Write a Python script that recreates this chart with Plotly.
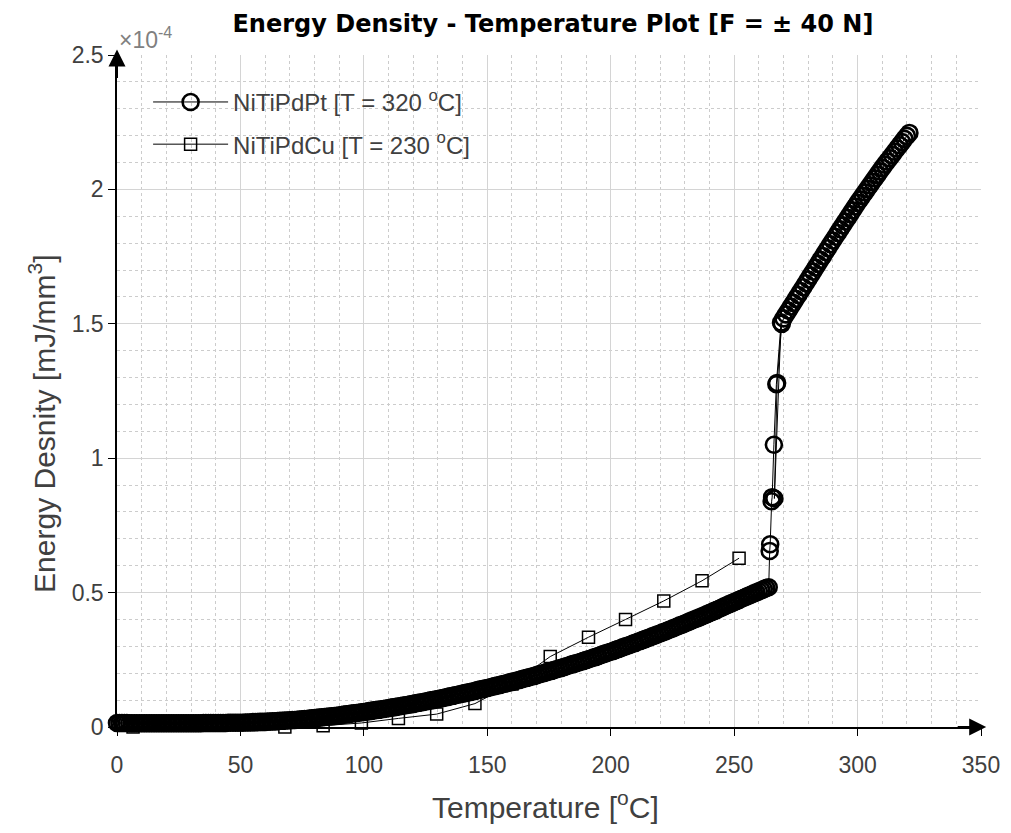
import plotly.graph_objects as go

# ---------------- data (values in units of 1e-4 mJ/mm^3) ----------------
# NiTiPdPt [T = 320 C] : heating branch 0..264 C (1 C step)
pt_low_T = list(range(0, 265))
pt_low_E = [
    0.015, 0.015, 0.015, 0.015, 0.015, 0.014, 0.014, 0.014, 0.014, 0.014,
    0.014, 0.014, 0.014, 0.014, 0.014, 0.014, 0.014, 0.014, 0.014, 0.014,
    0.014, 0.014, 0.014, 0.014, 0.014, 0.014, 0.014, 0.014, 0.014, 0.014,
    0.014, 0.014, 0.014, 0.014, 0.014, 0.015, 0.015, 0.015, 0.015, 0.015,
    0.015, 0.015, 0.015, 0.015, 0.015, 0.016, 0.016, 0.016, 0.016, 0.016,
    0.016, 0.016, 0.017, 0.017, 0.017, 0.018, 0.018, 0.018, 0.019, 0.019,
    0.019, 0.020, 0.020, 0.021, 0.021, 0.022, 0.023, 0.023, 0.024, 0.024,
    0.025, 0.026, 0.026, 0.027, 0.028, 0.029, 0.030, 0.030, 0.031, 0.032,
    0.033, 0.034, 0.035, 0.036, 0.037, 0.038, 0.039, 0.040, 0.041, 0.042,
    0.043, 0.044, 0.046, 0.047, 0.048, 0.050, 0.051, 0.052, 0.053, 0.055,
    0.056, 0.057, 0.059, 0.060, 0.062, 0.063, 0.064, 0.066, 0.067, 0.069,
    0.070, 0.072, 0.073, 0.075, 0.076, 0.078, 0.080, 0.081, 0.083, 0.084,
    0.086, 0.088, 0.090, 0.091, 0.093, 0.095, 0.097, 0.099, 0.100, 0.102,
    0.104, 0.106, 0.108, 0.110, 0.112, 0.114, 0.116, 0.118, 0.120, 0.122,
    0.124, 0.126, 0.128, 0.130, 0.132, 0.134, 0.137, 0.139, 0.141, 0.143,
    0.145, 0.147, 0.150, 0.152, 0.154, 0.156, 0.159, 0.161, 0.163, 0.166,
    0.168, 0.170, 0.173, 0.175, 0.178, 0.180, 0.183, 0.185, 0.188, 0.190,
    0.193, 0.196, 0.198, 0.201, 0.204, 0.206, 0.209, 0.212, 0.215, 0.217,
    0.220, 0.223, 0.226, 0.229, 0.232, 0.235, 0.237, 0.240, 0.243, 0.246,
    0.249, 0.252, 0.255, 0.258, 0.261, 0.264, 0.268, 0.271, 0.274, 0.277,
    0.280, 0.283, 0.287, 0.290, 0.293, 0.297, 0.300, 0.303, 0.306, 0.310,
    0.313, 0.317, 0.320, 0.324, 0.327, 0.331, 0.334, 0.338, 0.341, 0.345,
    0.348, 0.352, 0.355, 0.359, 0.363, 0.366, 0.370, 0.374, 0.378, 0.381,
    0.385, 0.389, 0.393, 0.397, 0.401, 0.404, 0.408, 0.412, 0.416, 0.420,
    0.424, 0.428, 0.432, 0.436, 0.440, 0.444, 0.449, 0.453, 0.457, 0.461,
    0.465, 0.469, 0.473, 0.477, 0.481, 0.485, 0.489, 0.493, 0.497, 0.501,
    0.505, 0.509, 0.513, 0.517, 0.520,
]
# transformation jump (goes up, briefly back, then up again)
pt_jump_T = [264.4, 264.6, 265.2, 265.4, 266.1, 267.1, 269.0, 266.3, 267.4, 269.3]
pt_jump_E = [0.655, 0.680, 0.840, 0.855, 1.050, 1.275, 1.505, 0.850, 1.280, 1.500]
# upper branch 270..321 C
pt_high_T = list(range(270, 322))
pt_high_E = [
    1.520, 1.535, 1.549, 1.564, 1.578, 1.593, 1.607, 1.622, 1.636, 1.651,
    1.665, 1.680, 1.694, 1.709, 1.723, 1.738, 1.752, 1.767, 1.781, 1.796,
    1.810, 1.824, 1.838, 1.852, 1.866, 1.880, 1.894, 1.908, 1.922, 1.936,
    1.950, 1.963, 1.976, 1.989, 2.002, 2.015, 2.028, 2.041, 2.054, 2.067,
    2.080, 2.092, 2.104, 2.116, 2.128, 2.140, 2.152, 2.164, 2.176, 2.188,
    2.199, 2.210,
]

# NiTiPdCu [T = 230 C]
cu_T = [6.5, 22, 37.5, 53, 68, 83.5, 99, 114, 129.5, 145, 160, 175.5, 191, 206, 221.5, 237, 252]
cu_E = [0.000, -0.002, -0.003, -0.002, 0.000, 0.005, 0.015, 0.032, 0.048, 0.087,
        0.160, 0.262, 0.334, 0.400, 0.469, 0.544, 0.628]

x_ticks = [0, 50, 100, 150, 200, 250, 300, 350]
y_ticks = [0, 0.5, 1, 1.5, 2, 2.5]
y_tick_labels = ["0", "0.5", "1", "1.5", "2", "2.5"]

pt_T = pt_low_T + pt_jump_T + pt_high_T
pt_E = pt_low_E + pt_jump_E + pt_high_E

FONT = "Liberation Sans, Arial, Helvetica, sans-serif"
TXT = "#404040"

fig = go.Figure()
fig.add_trace(go.Scatter(
    x=cu_T, y=cu_E, mode="lines+markers",
    name="NiTiPdCu [T = 230 <sup>o</sup>C]",
    line=dict(color="black", width=1),
    marker=dict(symbol="square-open", size=12, color="black", line=dict(width=1.5)),
    cliponaxis=False, legendrank=2, legendgroup="cu",
))
fig.add_trace(go.Scatter(
    x=pt_T, y=pt_E, mode="lines+markers",
    name="NiTiPdPt [T = 320 <sup>o</sup>C]",
    line=dict(color="black", width=1),
    marker=dict(symbol="circle-open", size=16, color="black", line=dict(width=2.6)),
    cliponaxis=False, legendrank=1, legendgroup="pt",
))

fig.update_layout(
    width=1011, height=833,
    margin=dict(l=109, r=38, t=47, b=114),
    paper_bgcolor="white", plot_bgcolor="white",
    font=dict(family=FONT, color=TXT, size=24),
    title=dict(text="<b>Energy Density - Temperature Plot [F = \u00b1 40 N]</b>",
               x=0.539, xanchor="center", yref="container", y=0.981, yanchor="middle",
               font=dict(family="DejaVu Sans, Liberation Sans, Arial, sans-serif", size=24, color="black")),
    showlegend=True,
    legend=dict(x=0.036, y=0.963, xanchor="left", yanchor="top",
                bgcolor="rgba(255,255,255,0)", borderwidth=0,
                font=dict(family=FONT, size=24, color=TXT),
                tracegroupgap=8, itemwidth=75),
)
fig.update_xaxes(
    range=[0, 350], tickvals=x_ticks, ticktext=[str(v) for v in x_ticks],
    automargin=False,
    showline=True, linecolor="black", linewidth=1.5,
    ticks="outside", ticklen=7, tickcolor="black", tickwidth=1,
    ticklabelstandoff=10,
    showgrid=True, gridcolor="#d4d4d4", gridwidth=1, zeroline=False,
    minor=dict(dtick=10, showgrid=True, gridcolor="#cccccc", griddash="dot", gridwidth=1),
    tickfont=dict(size=23, color=TXT),
)
fig.update_yaxes(
    range=[0, 2.5], tickvals=y_ticks, ticktext=y_tick_labels,
    automargin=False,
    showline=True, linecolor="black", linewidth=1.5,
    ticks="outside", ticklen=7, tickcolor="black", tickwidth=1,
    showgrid=True, gridcolor="#d4d4d4", gridwidth=1, zeroline=False,
    minor=dict(dtick=0.1, showgrid=True, gridcolor="#cccccc", griddash="dot", gridwidth=1),
    tickfont=dict(size=23, color=TXT),
)

# axis titles (placed like the reference)
fig.add_annotation(xref="paper", yref="paper", x=0.5, y=0, yshift=-78, xshift=-4,
                   xanchor="center", yanchor="middle", showarrow=False,
                   text="Temperature [<sup>o</sup>C]", font=dict(family=FONT, size=30, color=TXT))
fig.add_annotation(xref="paper", yref="paper", x=0, y=0.451, xshift=-75,
                   xanchor="center", yanchor="middle", showarrow=False, textangle=-90,
                   text="Energy Desnity [mJ/mm<sup>3</sup>]", font=dict(family=FONT, size=30, color=TXT))

# axis arrows
fig.add_annotation(xref="paper", yref="paper", x=0, y=1.008, ax=0, ay=30,
                   showarrow=True, arrowhead=2, arrowsize=1.7, arrowwidth=2,
                   arrowcolor="black", text="")
fig.add_annotation(xref="paper", yref="paper", x=1.006, y=0, ax=-30, ay=0,
                   showarrow=True, arrowhead=2, arrowsize=1.7, arrowwidth=2,
                   arrowcolor="black", text="")
# exponent label
fig.add_annotation(xref="paper", yref="paper", x=0.0, y=1.0, xanchor="left", yanchor="bottom",
                   xshift=0, yshift=0, showarrow=False, text="\u00d710<sup>-4</sup>",
                   font=dict(family=FONT, size=23, color="#808080"))

fig.write_html("out.html")
